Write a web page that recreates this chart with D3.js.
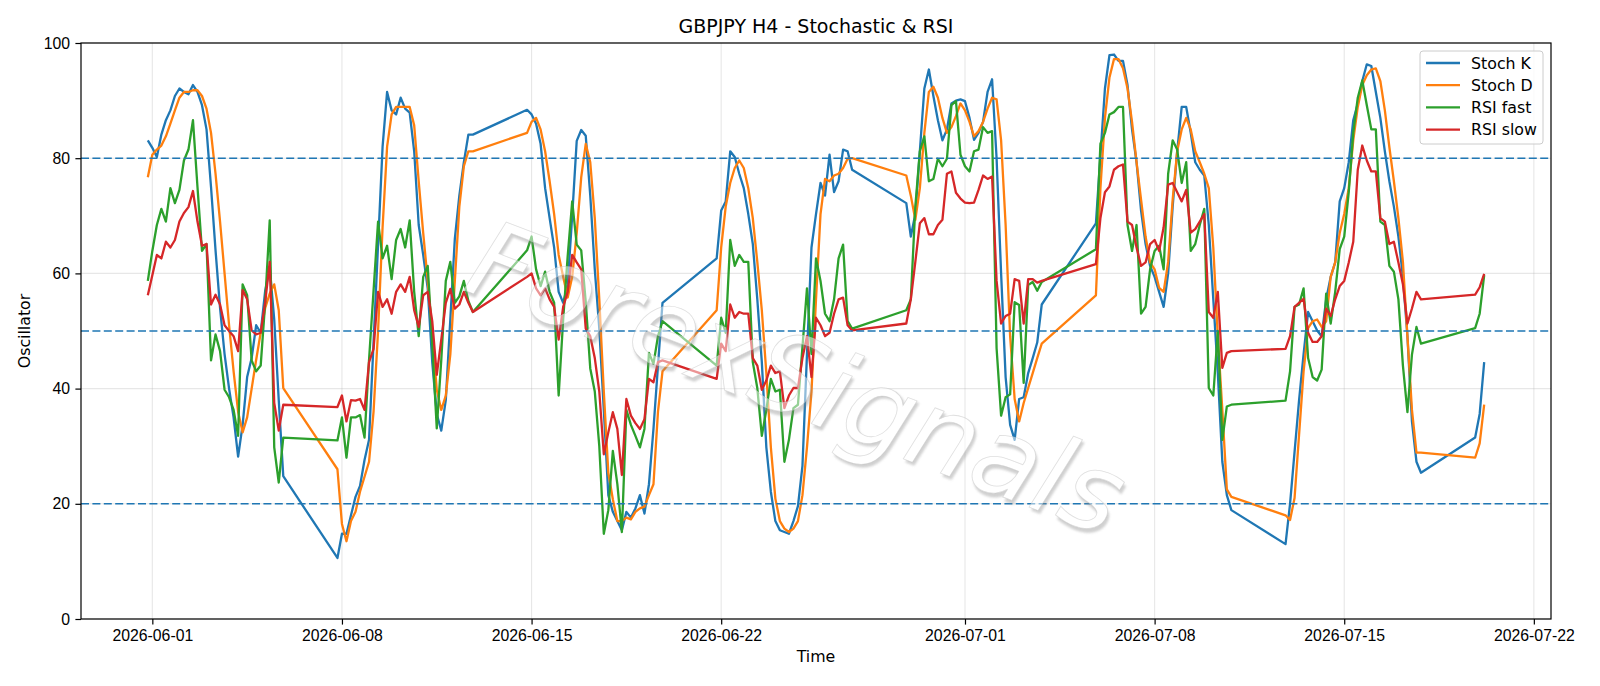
<!DOCTYPE html>
<html>
<head>
<meta charset="utf-8">
<title>GBPJPY H4 - Stochastic &amp; RSI</title>
<script src="https://cdn.jsdelivr.net/npm/d3@7"></script>
<style>
    body { margin: 0; background: #ffffff; }
    svg { display: block; font-family: "DejaVu Sans", sans-serif; }
    .grid line { stroke: #b0b0b0; stroke-opacity: 0.3; stroke-width: 1.1; }
    .axis text { font-size: 15.8px; fill: #000; }
    .axis line { stroke: #000; stroke-width: 1.2; }
    .series { fill: none; stroke-width: 2.3; stroke-linejoin: round; }
</style>
</head>
<body>
<div id="chart"></div>
<script>
// H4 bars: each trading week starts Sunday 20:00 and runs every 4 hours
const weekStarts = ["2026-05-31", "2026-06-07", "2026-06-14", "2026-06-21",
    "2026-06-28", "2026-07-05", "2026-07-12", "2026-07-19"];
const barsPerWeek = [31, 31, 31, 31, 31, 31, 31, 3];

const stochK = [
    83.1, 81.8, 80.2, 84.1, 86.6, 88.3, 90.8, 92.1, 91.5, 91.1, 92.7, 91.5, 89.2, 85.0, 75.0, 64.0, 54.0, 46.0, 40.0, 35.0, 28.2, 33.7, 42.0, 45.3, 51.0, 49.7, 57.0, 61.0, 52.0, 38.0, 24.8,
    10.6, 14.8, 14.8, 18.0, 21.2, 23.1, 27.6, 31.1, 48.0, 65.0, 82.0, 91.5, 88.3, 87.6, 90.5, 88.6, 87.9, 81.2, 68.4, 63.2, 57.4, 44.6, 35.6, 32.7, 38.0, 52.0, 66.0, 73.5, 79.3, 84.1, 84.1,
    88.4, 87.6, 86.0, 82.5, 74.8, 69.6, 64.5, 56.8, 54.9, 58.0, 70.0, 83.0, 84.9, 83.9, 73.5, 60.7, 50.4, 36.3, 21.5, 18.6, 17.0, 15.4, 18.6, 17.6, 19.2, 21.5, 18.3, 23.4, 33.0, 44.0, 54.9,
    62.6, 70.9, 72.5, 81.2, 80.2, 77.3, 74.8, 70.3, 65.1, 55.5, 44.6, 29.8, 22.1, 17.0, 15.4, 15.1, 14.8, 17.0, 19.6, 26.6, 45.9, 64.5, 70.3, 75.7, 73.5, 80.6, 74.1, 76.0, 81.5, 81.2, 78.0,
    72.2, 66.4, 70.3, 81.2, 92.1, 95.4, 90.8, 86.6, 83.1, 85.0, 89.5, 90.0, 90.2, 89.9, 87.0, 83.2, 84.4, 86.3, 91.5, 93.7, 80.0, 60.0, 42.0, 33.7, 31.1, 38.2, 38.5, 42.7, 45.3, 48.0, 54.6,
    68.7, 80.5, 92.1, 97.9, 98.0, 96.9, 96.9, 92.7, 85.0, 79.3, 70.9, 65.1, 61.3, 59.4, 56.8, 54.2, 60.0, 71.6, 81.2, 88.9, 88.9, 84.4, 79.3, 78.0, 77.0, 68.4, 55.5, 42.7, 27.3, 21.5, 18.9,
    13.0, 20.0, 29.0, 38.0, 46.0, 53.3, 51.7, 50.1, 49.1, 55.5, 59.4, 61.9, 72.5, 74.8, 79.3, 86.6, 89.5, 93.4, 96.3, 96.0, 91.5, 87.0, 81.2, 76.0, 71.6, 66.4, 59.4, 49.1, 34.3, 27.3, 25.4,
    31.5, 35.6, 44.6
];

const stochD = [
    76.7, 80.6, 81.5, 82.2, 83.8, 86.0, 88.3, 90.5, 91.5, 91.5, 91.8, 91.8, 90.8, 88.6, 84.4, 77.3, 69.0, 60.0, 51.0, 43.0, 36.0, 32.4, 35.0, 40.0, 45.0, 49.7, 54.0, 56.5, 58.1, 53.6, 40.1,
    26.0, 16.5, 13.5, 17.0, 18.6, 22.1, 24.7, 27.3, 36.0, 50.0, 68.0, 82.0, 87.6, 88.9, 88.9, 88.9, 88.9, 85.7, 76.0, 67.0, 58.7, 49.7, 39.8, 36.3, 38.8, 45.9, 58.7, 71.6, 78.6, 81.2, 81.2,
    84.4, 86.3, 87.0, 85.0, 81.2, 76.0, 70.3, 63.2, 59.4, 55.8, 59.4, 67.0, 76.7, 82.5, 79.3, 69.6, 55.5, 39.5, 25.4, 20.8, 17.0, 17.0, 17.6, 17.3, 18.6, 19.2, 19.5, 21.5, 23.4, 36.0, 43.0,
    53.6, 64.5, 71.6, 75.7, 78.3, 79.6, 78.3, 74.8, 69.6, 62.0, 53.6, 42.7, 29.8, 20.9, 17.0, 15.7, 15.1, 15.7, 17.0, 21.5, 29.8, 39.5, 55.5, 70.3, 76.4, 76.0, 77.0, 77.3, 78.3, 79.9, 80.0,
    77.0, 73.5, 69.3, 74.8, 84.4, 91.5, 92.4, 90.5, 87.0, 84.4, 85.4, 87.3, 89.5, 88.3, 86.3, 83.8, 84.7, 86.3, 88.6, 90.5, 90.2, 83.1, 68.4, 49.1, 38.2, 34.3, 37.5, 40.1, 42.7, 45.3, 47.8,
    56.2, 74.8, 87.0, 94.0, 97.2, 97.2, 95.6, 92.1, 86.3, 79.3, 72.8, 66.4, 61.9, 60.7, 57.5, 56.8, 62.0, 72.8, 81.2, 85.0, 87.0, 85.0, 81.2, 79.3, 77.3, 74.8, 64.5, 49.1, 36.3, 22.5, 21.2,
    18.0, 17.2, 21.0, 32.0, 43.0, 50.5, 51.7, 52.0, 50.7, 51.7, 59.4, 61.9, 67.0, 70.3, 74.8, 83.1, 88.9, 92.7, 94.4, 95.4, 95.6, 93.4, 88.3, 81.9, 76.0, 69.6, 62.0, 49.1, 36.3, 28.9, 28.9,
    28.0, 30.5, 37.2
];

const rsiFast = [
    58.7, 63.9, 68.4, 71.2, 69.0, 74.8, 72.2, 74.5, 79.6, 81.5, 86.6, 75.0, 63.9, 65.1, 44.9, 49.4, 46.5, 39.8, 38.5, 36.3, 31.8, 58.1, 56.2, 44.9, 43.0, 44.0, 55.0, 69.2, 29.8, 23.7, 31.5,
    31.0, 35.0, 28.0, 35.0, 35.0, 35.4, 31.5, 45.0, 57.0, 69.0, 62.6, 64.8, 59.0, 65.8, 67.7, 64.5, 69.2, 56.8, 49.1, 59.4, 61.3, 47.8, 33.1, 45.0, 58.7, 62.0, 54.9, 56.0, 58.7, 55.2, 53.3,
    64.0, 66.4, 60.7, 57.8, 60.3, 56.8, 54.9, 38.8, 52.0, 63.0, 72.5, 65.0, 64.0, 55.0, 43.5, 39.5, 30.0, 14.8, 18.9, 29.2, 23.4, 15.1, 36.3, 33.7, 31.8, 29.8, 33.0, 46.2, 44.3, 49.1, 51.7,
    44.0, 52.3, 49.7, 65.8, 61.3, 63.2, 62.0, 62.0, 44.6, 40.1, 31.8, 36.3, 41.7, 39.5, 39.8, 27.3, 31.1, 36.6, 37.2, 47.2, 57.4, 46.0, 62.6, 58.7, 53.0, 51.7, 55.5, 62.6, 65.0, 51.7, 50.4,
    53.6, 55.5, 71.6, 81.2, 83.8, 76.0, 76.4, 79.9, 78.6, 79.9, 89.2, 89.9, 80.6, 78.6, 77.7, 81.2, 81.5, 85.4, 84.4, 84.7, 47.0, 35.3, 38.5, 39.0, 55.0, 54.5, 41.0, 58.0, 58.5, 57.0, 58.5,
    64.2, 82.5, 84.4, 87.6, 88.0, 88.9, 88.9, 68.4, 63.9, 68.4, 53.0, 54.2, 60.7, 63.9, 64.8, 60.7, 77.3, 83.1, 81.5, 75.7, 79.3, 63.9, 65.1, 68.4, 71.2, 40.1, 38.8, 50.0, 31.1, 36.9, 37.2,
    37.9, 43.0, 54.2, 54.6, 57.4, 45.3, 42.0, 41.4, 43.3, 56.5, 51.3, 56.8, 64.2, 66.4, 74.1, 84.4, 90.5, 93.5, 89.2, 85.0, 85.0, 69.0, 68.4, 61.3, 60.3, 55.5, 44.0, 35.9, 45.9, 50.7, 47.8,
    50.5, 53.0, 59.7
];

const rsiSlow = [
    56.2, 59.7, 63.2, 62.6, 65.5, 64.5, 65.8, 69.0, 70.5, 71.5, 74.3, 69.0, 64.8, 65.1, 54.6, 56.3, 54.6, 51.0, 50.0, 49.1, 46.5, 57.1, 55.5, 50.1, 49.4, 49.7, 55.0, 62.0, 37.5, 32.7, 37.2,
    36.8, 38.8, 34.3, 38.0, 37.9, 38.2, 36.3, 44.6, 46.9, 56.8, 54.2, 55.5, 53.0, 56.8, 58.1, 56.8, 59.4, 53.6, 50.7, 56.2, 56.8, 51.7, 42.4, 48.5, 54.9, 57.3, 53.9, 54.6, 56.8, 54.9, 53.3,
    59.4, 60.0, 57.4, 56.2, 57.4, 55.5, 54.2, 48.5, 54.2, 56.8, 63.2, 61.9, 60.7, 50.4, 49.1, 45.3, 39.5, 28.6, 32.4, 35.9, 33.0, 25.0, 38.2, 35.3, 34.0, 33.0, 34.7, 41.7, 41.1, 44.6, 44.9,
    41.7, 47.8, 46.5, 54.6, 52.3, 53.3, 53.0, 53.0, 45.3, 44.0, 39.8, 41.4, 44.0, 42.7, 43.0, 36.6, 38.8, 40.1, 40.1, 45.3, 49.1, 42.0, 52.3, 51.0, 49.1, 49.7, 53.0, 55.5, 55.8, 51.0, 50.1,
    51.3, 55.5, 62.0, 68.7, 69.6, 66.8, 66.8, 68.4, 69.3, 77.3, 77.7, 74.0, 73.0, 72.3, 72.2, 72.3, 74.5, 77.0, 76.4, 76.8, 58.7, 51.3, 52.6, 53.0, 59.0, 58.7, 51.3, 59.0, 59.0, 58.4, 58.7,
    61.6, 69.6, 74.1, 75.1, 78.0, 78.6, 78.9, 69.0, 68.4, 64.5, 61.3, 61.9, 65.1, 65.8, 63.9, 68.0, 75.4, 75.7, 74.1, 72.5, 74.5, 67.1, 67.7, 69.0, 70.3, 53.3, 52.3, 56.8, 43.6, 46.2, 46.5,
    46.9, 49.1, 54.2, 54.9, 55.6, 49.7, 48.1, 48.1, 49.1, 53.9, 52.6, 55.5, 57.8, 58.7, 61.9, 65.5, 78.0, 82.2, 79.6, 77.7, 77.7, 69.6, 69.0, 65.1, 65.5, 61.9, 58.1, 51.3, 53.9, 56.8, 55.5,
    56.3, 57.6, 59.9
];

const seriesNames = ["Stoch K", "Stoch D", "RSI fast", "RSI slow"];
const seriesColors = ["#1f77b4", "#ff7f0e", "#2ca02c", "#d62728"];
const levels = [80, 50, 20];
const yTicks = [0, 20, 40, 60, 80, 100];
const xTickDates = ["2026-06-01", "2026-06-08", "2026-06-15", "2026-06-22",
    "2026-07-01", "2026-07-08", "2026-07-15", "2026-07-22"];
const watermarkText = "ForexSignals";

class OscillatorChart {

    constructor() {
        this._margin = { top: 43, right: 49, bottom: 67, left: 81 };
        this._width = 1600;
        this._height = 686;
        this.svg = null;
        this.x = null;
        this.y = null;
    }

    // Build the bar timestamps from the week list
    buildTimes = () => {
        var times = [];
        weekStarts.forEach((w, i) => {
            var start = new Date(w + "T20:00:00Z").getTime();
            for (var k = 0; k < barsPerWeek[i]; k++) {
                times.push(new Date(start + k * 4 * 3600 * 1000));
            }
        });
        return times;
    }

    init = (id) => {
        var margin = this._margin,
            width = this._width - margin.left - margin.right,
            height = this._height - margin.top - margin.bottom;

        var times = this.buildTimes();
        var values = [stochK, stochD, rsiFast, rsiSlow];

        var root = d3.select(id).append("svg")
            .attr("width", this._width)
            .attr("height", this._height);

        this.svg = root.append("g")
            .attr("transform", "translate(" + margin.left + "," + margin.top + ")");

        // matplotlib style 5% padding on the time axis
        var t0 = times[0].getTime(), t1 = times[times.length - 1].getTime();
        var pad = (t1 - t0) * 0.05;
        this.x = d3.scaleUtc().domain([new Date(t0 - pad), new Date(t1 + pad)]).range([0, width]);
        this.y = d3.scaleLinear().domain([0, 100]).range([height, 0]);

        var xTicks = xTickDates.map(d => new Date(d + "T00:00:00Z"));

        // grid
        var grid = this.svg.append("g").attr("class", "grid");
        grid.selectAll("line.gx").data(xTicks).enter().append("line")
            .attr("x1", d => this.x(d)).attr("x2", d => this.x(d))
            .attr("y1", 0).attr("y2", height);
        grid.selectAll("line.gy").data(yTicks).enter().append("line")
            .attr("x1", 0).attr("x2", width)
            .attr("y1", d => this.y(d)).attr("y2", d => this.y(d));

        // clip so the lines stay in the axes
        this.svg.append("clipPath").attr("id", "plot-clip")
            .append("rect").attr("width", width).attr("height", height);

        var lines = this.svg.append("g").attr("clip-path", "url(#plot-clip)");

        var line = d3.line()
            .x(d => this.x(d[0]))
            .y(d => this.y(d[1]));

        values.forEach((vals, i) => {
            lines.append("path")
                .attr("class", "series")
                .attr("stroke", seriesColors[i])
                .attr("d", line(vals.map((v, j) => [times[j], v])));
        });

        // overbought / mid / oversold levels
        lines.selectAll("line.level").data(levels).enter().append("line")
            .attr("x1", 0).attr("x2", width)
            .attr("y1", d => this.y(d)).attr("y2", d => this.y(d))
            .attr("stroke", "#1f77b4")
            .attr("stroke-width", 1.6)
            .attr("stroke-dasharray", "8,3.4");

        this.watermark();

        // axes
        var xAxis = d3.axisBottom(this.x)
            .tickValues(xTicks)
            .tickFormat(d3.utcFormat("%Y-%m-%d"))
            .tickSize(5.6).tickPadding(5);
        var yAxis = d3.axisLeft(this.y)
            .tickValues(yTicks)
            .tickSize(5.6).tickPadding(5.4);

        var gx = this.svg.append("g").attr("class", "axis")
            .attr("transform", "translate(0," + height + ")")
            .call(xAxis);
        var gy = this.svg.append("g").attr("class", "axis").call(yAxis);
        gx.select(".domain").remove();
        gy.select(".domain").remove();
        gx.selectAll("text").attr("font-family", null);
        gy.selectAll("text").attr("font-family", null);

        // spines
        this.svg.append("rect")
            .attr("width", width).attr("height", height)
            .attr("fill", "none").attr("stroke", "#000").attr("stroke-width", 1.2);

        this.legend(width);

        // titles
        root.append("text")
            .attr("x", margin.left + width / 2).attr("y", 33)
            .attr("text-anchor", "middle")
            .attr("font-size", "19px")
            .text("GBPJPY H4 - Stochastic & RSI");
        root.append("text")
            .attr("x", margin.left + width / 2).attr("y", 662)
            .attr("text-anchor", "middle")
            .attr("font-size", "15.8px")
            .text("Time");
        root.append("text")
            .attr("transform", "translate(30," + (margin.top + height / 2) + ") rotate(-90)")
            .attr("text-anchor", "middle")
            .attr("font-size", "15.8px")
            .text("Oscillator");
    }

    // Faded text with a soft drop shadow, drawn over the plot
    watermark = () => {
        var defs = this.svg.append("defs");
        defs.append("filter").attr("id", "wm-blur")
            .append("feGaussianBlur").attr("stdDeviation", 1);

        var wm = this.svg.append("g")
            .attr("transform", "translate(380,246) rotate(21)")
            .attr("font-size", "108px")
            .attr("font-style", "italic");

        // the shadow only shows outside the letter shapes
        var mask = defs.append("mask").attr("id", "wm-mask")
            .attr("maskUnits", "userSpaceOnUse")
            .attr("x", -200).attr("y", -300).attr("width", 1200).attr("height", 500);
        mask.append("rect")
            .attr("x", -200).attr("y", -300).attr("width", 1200).attr("height", 500)
            .attr("fill", "#fff");

        var shadowGroup = wm.append("g").attr("mask", "url(#wm-mask)");
        shadowGroup.append("text")
            .attr("x", 3).attr("y", 3)
            .attr("fill", "#8a8a8a").attr("fill-opacity", 0.4)
            .attr("filter", "url(#wm-blur)")
            .text(watermarkText);

        // mask content sits in the same (rotated) space as the group
        mask.append("text")
            .attr("font-size", "108px").attr("font-style", "italic")
            .attr("fill", "#000")
            .text(watermarkText);

        wm.append("text")
            .attr("fill", "#ffffff").attr("fill-opacity", 0.5)
            .attr("stroke", "#c4c4c4").attr("stroke-width", 0.8).attr("stroke-opacity", 0.55)
            .text(watermarkText);
    }

    legend = (width) => {
        var lg = this.svg.append("g")
            .attr("transform", "translate(" + (width - 131) + ",8)");
        lg.append("rect")
            .attr("width", 123).attr("height", 93)
            .attr("rx", 3)
            .attr("fill", "#fff").attr("fill-opacity", 0.8)
            .attr("stroke", "#cccccc").attr("stroke-width", 1);
        seriesNames.forEach((name, i) => {
            var yy = 12 + i * 22.2;
            lg.append("line")
                .attr("x1", 6).attr("x2", 40)
                .attr("y1", yy).attr("y2", yy)
                .attr("stroke", seriesColors[i]).attr("stroke-width", 2.3);
            lg.append("text")
                .attr("x", 51).attr("y", yy).attr("dy", "0.35em")
                .attr("font-size", "15.8px")
                .text(name);
        });
    }
}

var chart = new OscillatorChart();
chart.init("#chart");
</script>
</body>
</html>
